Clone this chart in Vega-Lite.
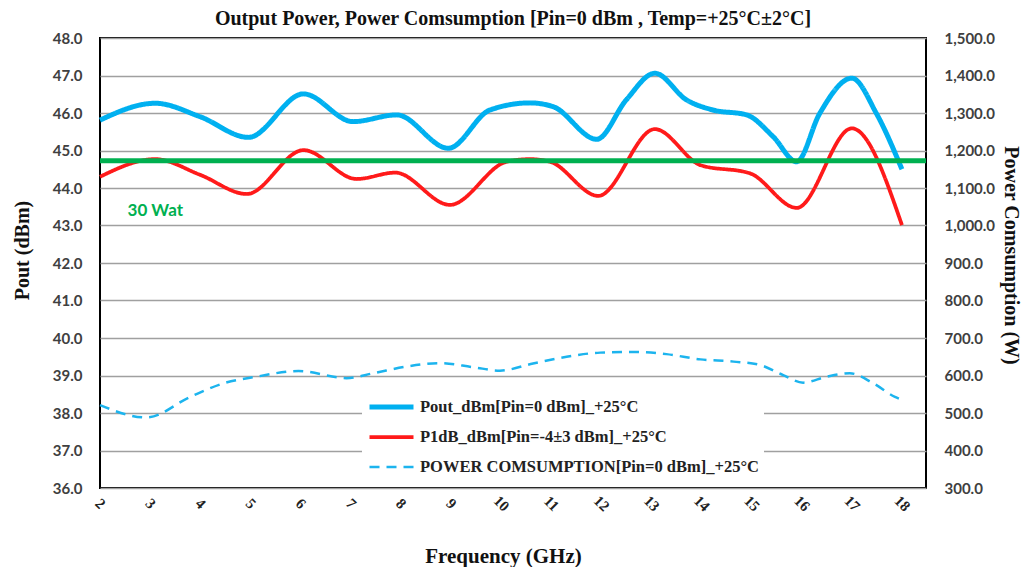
{
  "$schema": "https://vega.github.io/schema/vega-lite/v6.json",
  "width": 826,
  "height": 450,
  "autosize": {"type": "none"},
  "padding": {"left": 100, "top": 38, "right": 98, "bottom": 79},
  "background": "white",
  "title": {
    "text": "Output Power,  Power Comsumption  [Pin=0 dBm ,   Temp=+25°C±2°C]",
    "anchor": "middle",
    "font": "Liberation Serif",
    "fontSize": 20,
    "fontWeight": "bold",
    "color": "#111",
    "offset": 2
  },
  "datasets": {
    "dbm": [
      {"f": 2.0, "v": 45.81, "series": "Pout_dBm[Pin=0 dBm]_+25°C"},
      {"f": 3.1, "v": 46.26, "series": "Pout_dBm[Pin=0 dBm]_+25°C"},
      {"f": 4.0, "v": 45.9, "series": "Pout_dBm[Pin=0 dBm]_+25°C"},
      {"f": 4.96, "v": 45.35, "series": "Pout_dBm[Pin=0 dBm]_+25°C"},
      {"f": 6.06, "v": 46.51, "series": "Pout_dBm[Pin=0 dBm]_+25°C"},
      {"f": 7.05, "v": 45.77, "series": "Pout_dBm[Pin=0 dBm]_+25°C"},
      {"f": 7.92, "v": 45.95, "series": "Pout_dBm[Pin=0 dBm]_+25°C"},
      {"f": 8.95, "v": 45.06, "series": "Pout_dBm[Pin=0 dBm]_+25°C"},
      {"f": 9.78, "v": 46.08, "series": "Pout_dBm[Pin=0 dBm]_+25°C"},
      {"f": 10.58, "v": 46.27, "series": "Pout_dBm[Pin=0 dBm]_+25°C"},
      {"f": 11.04, "v": 46.17, "series": "Pout_dBm[Pin=0 dBm]_+25°C"},
      {"f": 11.91, "v": 45.3, "series": "Pout_dBm[Pin=0 dBm]_+25°C"},
      {"f": 12.5, "v": 46.35, "series": "Pout_dBm[Pin=0 dBm]_+25°C"},
      {"f": 13.07, "v": 47.06, "series": "Pout_dBm[Pin=0 dBm]_+25°C"},
      {"f": 13.7, "v": 46.35, "series": "Pout_dBm[Pin=0 dBm]_+25°C"},
      {"f": 14.23, "v": 46.08, "series": "Pout_dBm[Pin=0 dBm]_+25°C"},
      {"f": 14.9, "v": 45.95, "series": "Pout_dBm[Pin=0 dBm]_+25°C"},
      {"f": 15.43, "v": 45.37, "series": "Pout_dBm[Pin=0 dBm]_+25°C"},
      {"f": 15.9, "v": 44.7, "series": "Pout_dBm[Pin=0 dBm]_+25°C"},
      {"f": 16.36, "v": 45.99, "series": "Pout_dBm[Pin=0 dBm]_+25°C"},
      {"f": 17.0, "v": 46.93, "series": "Pout_dBm[Pin=0 dBm]_+25°C"},
      {"f": 17.49, "v": 45.99, "series": "Pout_dBm[Pin=0 dBm]_+25°C"},
      {"f": 18.0, "v": 44.5, "series": "Pout_dBm[Pin=0 dBm]_+25°C"},
      {"f": 2.0, "v": 44.3, "series": "P1dB_dBm[Pin=-4±3 dBm]_+25°C"},
      {"f": 3.1, "v": 44.77, "series": "P1dB_dBm[Pin=-4±3 dBm]_+25°C"},
      {"f": 4.0, "v": 44.35, "series": "P1dB_dBm[Pin=-4±3 dBm]_+25°C"},
      {"f": 4.93, "v": 43.84, "series": "P1dB_dBm[Pin=-4±3 dBm]_+25°C"},
      {"f": 6.06, "v": 45.01, "series": "P1dB_dBm[Pin=-4±3 dBm]_+25°C"},
      {"f": 7.12, "v": 44.24, "series": "P1dB_dBm[Pin=-4±3 dBm]_+25°C"},
      {"f": 7.89, "v": 44.41, "series": "P1dB_dBm[Pin=-4±3 dBm]_+25°C"},
      {"f": 8.98, "v": 43.55, "series": "P1dB_dBm[Pin=-4±3 dBm]_+25°C"},
      {"f": 10.11, "v": 44.7, "series": "P1dB_dBm[Pin=-4±3 dBm]_+25°C"},
      {"f": 10.58, "v": 44.77, "series": "P1dB_dBm[Pin=-4±3 dBm]_+25°C"},
      {"f": 10.98, "v": 44.7, "series": "P1dB_dBm[Pin=-4±3 dBm]_+25°C"},
      {"f": 11.94, "v": 43.79, "series": "P1dB_dBm[Pin=-4±3 dBm]_+25°C"},
      {"f": 13.07, "v": 45.57, "series": "P1dB_dBm[Pin=-4±3 dBm]_+25°C"},
      {"f": 13.98, "v": 44.61, "series": "P1dB_dBm[Pin=-4±3 dBm]_+25°C"},
      {"f": 14.97, "v": 44.39, "series": "P1dB_dBm[Pin=-4±3 dBm]_+25°C"},
      {"f": 15.9, "v": 43.47, "series": "P1dB_dBm[Pin=-4±3 dBm]_+25°C"},
      {"f": 17.0, "v": 45.59, "series": "P1dB_dBm[Pin=-4±3 dBm]_+25°C"},
      {"f": 18.0, "v": 43.01, "series": "P1dB_dBm[Pin=-4±3 dBm]_+25°C"}
    ],
    "power": [
      {"f": 2.0, "w": 521, "series": "POWER COMSUMPTION[Pin=0 dBm]_+25°C"},
      {"f": 2.93, "w": 488, "series": "POWER COMSUMPTION[Pin=0 dBm]_+25°C"},
      {"f": 3.8, "w": 543, "series": "POWER COMSUMPTION[Pin=0 dBm]_+25°C"},
      {"f": 4.46, "w": 579, "series": "POWER COMSUMPTION[Pin=0 dBm]_+25°C"},
      {"f": 5.13, "w": 597, "series": "POWER COMSUMPTION[Pin=0 dBm]_+25°C"},
      {"f": 5.96, "w": 612, "series": "POWER COMSUMPTION[Pin=0 dBm]_+25°C"},
      {"f": 6.92, "w": 593, "series": "POWER COMSUMPTION[Pin=0 dBm]_+25°C"},
      {"f": 7.45, "w": 606, "series": "POWER COMSUMPTION[Pin=0 dBm]_+25°C"},
      {"f": 8.12, "w": 624, "series": "POWER COMSUMPTION[Pin=0 dBm]_+25°C"},
      {"f": 8.78, "w": 633, "series": "POWER COMSUMPTION[Pin=0 dBm]_+25°C"},
      {"f": 9.45, "w": 622, "series": "POWER COMSUMPTION[Pin=0 dBm]_+25°C"},
      {"f": 9.98, "w": 613, "series": "POWER COMSUMPTION[Pin=0 dBm]_+25°C"},
      {"f": 10.64, "w": 632, "series": "POWER COMSUMPTION[Pin=0 dBm]_+25°C"},
      {"f": 11.31, "w": 650, "series": "POWER COMSUMPTION[Pin=0 dBm]_+25°C"},
      {"f": 11.98, "w": 661, "series": "POWER COMSUMPTION[Pin=0 dBm]_+25°C"},
      {"f": 12.64, "w": 663, "series": "POWER COMSUMPTION[Pin=0 dBm]_+25°C"},
      {"f": 13.3, "w": 657, "series": "POWER COMSUMPTION[Pin=0 dBm]_+25°C"},
      {"f": 13.98, "w": 643, "series": "POWER COMSUMPTION[Pin=0 dBm]_+25°C"},
      {"f": 14.64, "w": 637, "series": "POWER COMSUMPTION[Pin=0 dBm]_+25°C"},
      {"f": 15.17, "w": 628, "series": "POWER COMSUMPTION[Pin=0 dBm]_+25°C"},
      {"f": 15.63, "w": 601, "series": "POWER COMSUMPTION[Pin=0 dBm]_+25°C"},
      {"f": 16.03, "w": 581, "series": "POWER COMSUMPTION[Pin=0 dBm]_+25°C"},
      {"f": 16.5, "w": 597, "series": "POWER COMSUMPTION[Pin=0 dBm]_+25°C"},
      {"f": 16.96, "w": 606, "series": "POWER COMSUMPTION[Pin=0 dBm]_+25°C"},
      {"f": 17.43, "w": 579, "series": "POWER COMSUMPTION[Pin=0 dBm]_+25°C"},
      {"f": 17.86, "w": 543, "series": "POWER COMSUMPTION[Pin=0 dBm]_+25°C"},
      {"f": 18.0, "w": 535, "series": "POWER COMSUMPTION[Pin=0 dBm]_+25°C"}
    ],
    "ref": [{"v": 44.73}],
    "note": [{"f": 2.55, "v": 43.4, "label": "30 Wat"}]
  },
  "layer": [
    {
      "layer": [
        {
          "data": {"name": "dbm"},
          "mark": {"type": "line", "interpolate": "monotone"},
          "encoding": {
            "x": {
              "field": "f", "type": "quantitative",
              "scale": {"domain": [2, 18.48], "nice": false, "zero": false},
              "axis": {
                "title": "Frequency (GHz)",
                "values": [2,3,4,5,6,7,8,9,10,11,12,13,14,15,16,17,18],
                "labelOverlap": false,
                "grid": false, "domain": false, "ticks": false,
                "labelAngle": 45, "labelAlign": "center", "labelBaseline": "middle",
                "labelPadding": 15,
                "labelFont": "Liberation Serif", "labelFontWeight": "bold", "labelFontSize": 15, "labelColor": "#222",
                "titleFont": "Liberation Serif", "titleFontWeight": "bold", "titleFontSize": 21, "titleColor": "#111",
                "titleX": 403, "titleY": 68, "titleAlign": "center", "titleBaseline": "middle"
              }
            },
            "y": {
              "field": "v", "type": "quantitative",
              "scale": {"domain": [36, 48], "nice": false, "zero": false},
              "axis": {
                "title": "Pout (dBm)",
                "values": [36,37,38,39,40,41,42,43,44,45,46,47,48],
                "tickCount": 13,
                "labelOverlap": false,
                "format": ".1f",
                "grid": true, "gridColor": "#a0a0a0", "gridWidth": 1.5,
                "domain": false, "ticks": false, "labelPadding": 18,
                "labelFont": "Lato", "labelFontWeight": "bold", "labelFontSize": 15, "labelColor": "#404040",
                "titleFont": "Liberation Serif", "titleFontWeight": "bold", "titleFontSize": 20, "titleColor": "#111",
                "titleX": -78, "titleY": 212, "titleAngle": -90, "titleAlign": "center", "titleBaseline": "middle"
              }
            },
            "color": {"field": "series", "type": "nominal", "title": null,
              "scale": {"domain": ["Pout_dBm[Pin=0 dBm]_+25°C", "P1dB_dBm[Pin=-4±3 dBm]_+25°C", "POWER COMSUMPTION[Pin=0 dBm]_+25°C"], "range": ["#00b0f0", "#ff1a1a", "#1cb4ee"]}},
            "strokeWidth": {"field": "series", "type": "nominal", "title": null,
              "scale": {"domain": ["Pout_dBm[Pin=0 dBm]_+25°C", "P1dB_dBm[Pin=-4±3 dBm]_+25°C", "POWER COMSUMPTION[Pin=0 dBm]_+25°C"], "range": [5, 2.5, 3]}},
            "strokeDash": {"field": "series", "type": "nominal", "title": null,
              "scale": {"domain": ["Pout_dBm[Pin=0 dBm]_+25°C", "P1dB_dBm[Pin=-4±3 dBm]_+25°C", "POWER COMSUMPTION[Pin=0 dBm]_+25°C"], "range": [[1, 0], [1, 0], [10, 7]]}}
          }
        },
        {
          "data": {"name": "ref"},
          "mark": {"type": "rule", "color": "#00b050", "strokeWidth": 5},
          "encoding": {"y": {"field": "v", "type": "quantitative",
              "axis": {
                "title": "Pout (dBm)",
                "values": [36,37,38,39,40,41,42,43,44,45,46,47,48],
                "tickCount": 13,
                "labelOverlap": false,
                "format": ".1f",
                "grid": true, "gridColor": "#a0a0a0", "gridWidth": 1.5,
                "domain": false, "ticks": false, "labelPadding": 18,
                "labelFont": "Lato", "labelFontWeight": "bold", "labelFontSize": 15, "labelColor": "#404040",
                "titleFont": "Liberation Serif", "titleFontWeight": "bold", "titleFontSize": 20, "titleColor": "#111",
                "titleX": -78, "titleY": 212, "titleAngle": -90, "titleAlign": "center", "titleBaseline": "middle"
              }}}
        },
        {
          "data": {"name": "note"},
          "mark": {"type": "text", "align": "left", "baseline": "middle", "font": "Lato", "fontWeight": "bold", "fontSize": 17, "color": "#00b050"},
          "encoding": {
            "x": {"field": "f", "type": "quantitative"},
            "y": {"field": "v", "type": "quantitative",
              "axis": {
                "title": "Pout (dBm)",
                "values": [36,37,38,39,40,41,42,43,44,45,46,47,48],
                "tickCount": 13,
                "labelOverlap": false,
                "format": ".1f",
                "grid": true, "gridColor": "#a0a0a0", "gridWidth": 1.5,
                "domain": false, "ticks": false, "labelPadding": 18,
                "labelFont": "Lato", "labelFontWeight": "bold", "labelFontSize": 15, "labelColor": "#404040",
                "titleFont": "Liberation Serif", "titleFontWeight": "bold", "titleFontSize": 20, "titleColor": "#111",
                "titleX": -78, "titleY": 212, "titleAngle": -90, "titleAlign": "center", "titleBaseline": "middle"
              }},
            "text": {"field": "label"}
          }
        }
      ]
    },
    {
      "data": {"name": "power"},
      "mark": {"type": "line", "interpolate": "monotone"},
      "encoding": {
        "x": {"field": "f", "type": "quantitative"},
        "y": {
          "field": "w", "type": "quantitative",
          "scale": {"domain": [300, 1500], "nice": false, "zero": false},
          "axis": {
            "orient": "right",
            "title": "Power Comsumption  (W)",
            "values": [300,400,500,600,700,800,900,1000,1100,1200,1300,1400,1500],
            "labelOverlap": false,
            "format": ",.1f",
            "grid": false, "domain": false, "ticks": false, "labelPadding": 18,
            "labelFont": "Lato", "labelFontWeight": "bold", "labelFontSize": 15, "labelColor": "#404040",
            "titleFont": "Liberation Serif", "titleFontWeight": "bold", "titleFontSize": 20, "titleColor": "#111",
            "titleX": 84, "titleY": 217, "titleAngle": 90, "titleAlign": "center", "titleBaseline": "middle"
          }
        },
        "color": {"field": "series", "type": "nominal", "title": null},
        "strokeWidth": {"field": "series", "type": "nominal", "title": null},
        "strokeDash": {"field": "series", "type": "nominal", "title": null}
      }
    }
  ],
  "resolve": {"scale": {"y": "independent"}},
  "config": {
    "view": {"stroke": "#000", "strokeWidth": 2},
    "legend": {
      "orient": "none",
      "legendX": 262,
      "legendY": 354,
      "fillColor": "white",
      "padding": 5,
      "symbolType": "stroke",
      "symbolSize": 1936,
      "clipHeight": 20,
      "rowPadding": 10,
      "labelFont": "Liberation Serif",
      "labelFontWeight": "bold",
      "labelFontSize": 16.5,
      "labelColor": "#222",
      "labelLimit": 500,
      "labelOffset": 4
    }
  }
}
